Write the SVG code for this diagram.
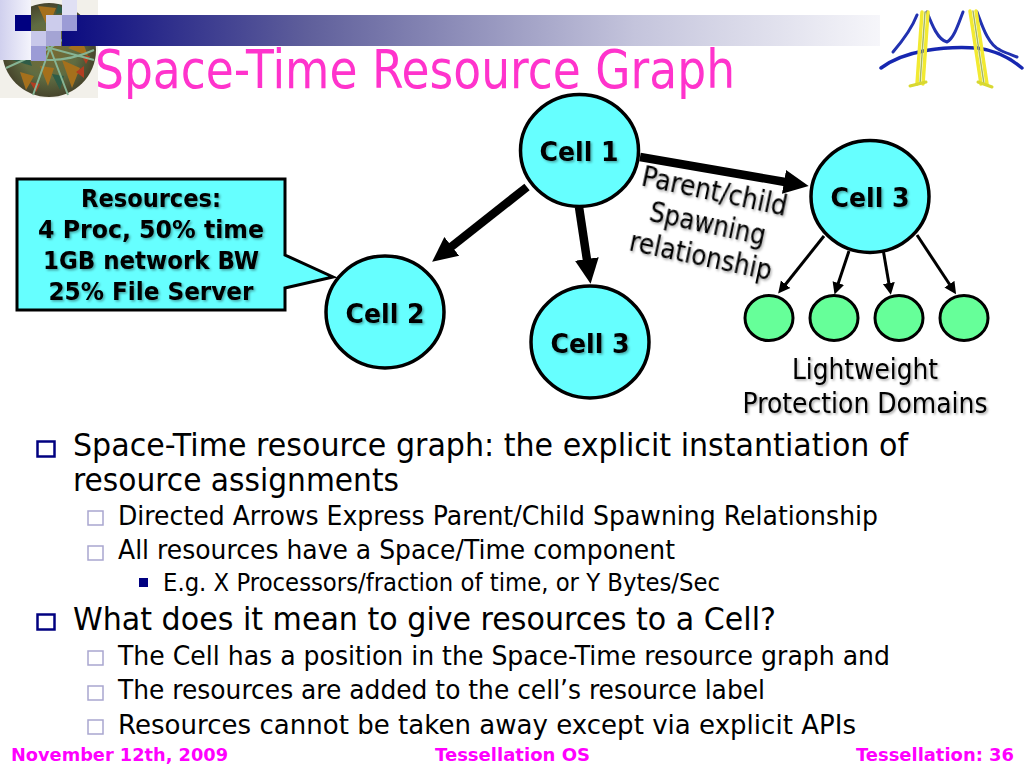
<svg xmlns="http://www.w3.org/2000/svg" width="1024" height="768" viewBox="0 0 1024 768">
<style>
text{font-family:"DejaVu Sans","Noto Sans",sans-serif;fill:#000}
.cell{fill:#66ffff;stroke:#000;stroke-width:3.5}
.lw{fill:#66ff99;stroke:#000;stroke-width:3}
.lbl{font-weight:bold;font-size:27px;text-anchor:middle;filter:url(#sh)}
.note{font-size:28px;text-anchor:middle;filter:url(#sh)}
.res{font-weight:bold;font-size:25px;text-anchor:middle;filter:url(#sh)}
.foot{font-weight:bold;font-size:18.500px;fill:#ff00ff}
.l1{font-size:32px}.l2{font-size:27px}.l3{font-size:24px}
.b1{fill:none;stroke:#000080;stroke-width:2.5}
.b2{fill:none;stroke:#a9a6cf;stroke-width:1.5}
.thick{fill:none;stroke:#000;stroke-width:8.500}
.thin{fill:none;stroke:#000;stroke-width:3}
</style>
<defs>
<linearGradient id="bar" x1="0" x2="1" y1="0" y2="0"><stop offset="0" stop-color="#0a0a80"/><stop offset="0.3" stop-color="#5f5f9b"/><stop offset="0.7" stop-color="#c4c4dc"/><stop offset="1" stop-color="#f6f6fa"/></linearGradient>
<linearGradient id="fade" x1="0" x2="1" y1="0" y2="0"><stop offset="0" stop-color="#d0d0ee"/><stop offset="1" stop-color="#f4f4fc"/></linearGradient>
<radialGradient id="ball"><stop offset="0" stop-color="#7c6a30"/><stop offset="0.6" stop-color="#5f6c42"/><stop offset="1" stop-color="#47452c"/></radialGradient>
<filter id="sh" x="-10%" y="-20%" width="120%" height="150%"><feDropShadow dx="1.5" dy="1.5" stdDeviation="0.8" flood-color="#000" flood-opacity="0.35"/></filter>
<filter id="soft" x="-5%" y="-5%" width="110%" height="110%"><feGaussianBlur stdDeviation="0.7"/></filter>
<marker id="hb" markerUnits="userSpaceOnUse" markerWidth="28" markerHeight="28" refX="1" refY="14" orient="auto"><path d="M0 2L25 14L0 26Z" fill="#000"/></marker>
<marker id="hs" markerUnits="userSpaceOnUse" markerWidth="14" markerHeight="14" refX="1" refY="7" orient="auto"><path d="M0 1L12 7L0 13Z" fill="#000"/></marker>
</defs>

<g id="header">
<rect x="0" y="0" width="98" height="98" fill="#f2f0ea"/>
<circle cx="49" cy="50" r="47" fill="url(#ball)"/>
<g filter="url(#soft)">
<path d="M62 60l18 8l-8 20zM20 72l14 4l-8 14zM38 6l18 2l-8 20zM68 48l14-8l6 16zM40 66l14 2l-6 18z" fill="#a5701f"/>
<path d="M12 60l16-6l4 12zM52 74l12 2l-4 14zM58 4l8 8l-10 2z" fill="#2f5c46"/>
<path d="M30 82l10 2l-4 8zM76 72l8-6l0 12zM82 56l8 0l-4 8z" fill="#b23d20"/>
<path d="M6 68L50 48L94 60M50 48L33 95M50 48L68 95M22 30L50 48L80 28M4 50Q50 70 94 50" fill="none" stroke="#86b494" stroke-width="2"/>
</g>
<rect x="62" y="15" width="818" height="31" fill="url(#bar)"/>
<rect x="0" y="0" width="31" height="60" fill="url(#fade)"/>
<rect x="62" y="0" width="15" height="15" fill="#e0e0f4"/>
<rect x="15" y="15" width="16" height="16" fill="#000080"/>
<rect x="46" y="15" width="16" height="16" fill="#ccccec"/>
<rect x="62" y="15" width="15" height="16" fill="#9c9cd6"/>
<rect x="31" y="31" width="15" height="15" fill="#c8c8ea"/>
<rect x="46" y="31" width="15" height="15" fill="#a4a4d4"/>
<rect x="31" y="46" width="15" height="15" fill="#9c9cd6"/>
</g>
<g id="logo" fill="none" stroke-linecap="round" filter="url(#soft)">
<path d="M893 52C905 38 912 28 917 15M927 12C932 25 938 40 947 42C954 38 958 25 963 12M977 12C982 25 988 45 1000 50C1006 53 1012 55 1017 57" stroke="#2030b0" stroke-width="3"/>
<path d="M881 68C905 50 945 46 977 48C995 50 1010 58 1022 68" stroke="#1828b0" stroke-width="3.500"/>
<path d="M922 12L917 84M928 12L923 84M970 11L981 84M976 11L987 84" stroke="#f2ea30" stroke-width="3.500"/>
<path d="M925 12L920 84M973 11L984 84" stroke="#a6b860" stroke-width="1.500"/>
<path d="M910 86L926 82M978 82L992 87" stroke="#d8d830" stroke-width="3"/>
</g>
<text id="title" x="95" y="88" font-size="53" style="fill:#ff33cc" textLength="640" lengthAdjust="spacingAndGlyphs">Space-Time Resource Graph</text>

<g id="connectors">
<path class="thick" d="M640 157L785 182" marker-end="url(#hb)"/>
<path class="thick" d="M527 187L451 247" marker-end="url(#hb)"/>
<path class="thick" d="M579 207L587 260" marker-end="url(#hb)"/>
<path class="thin" d="M824 236L785 285" marker-end="url(#hs)"/>
<path class="thin" d="M849 251L838 284" marker-end="url(#hs)"/>
<path class="thin" d="M883 249L889 284" marker-end="url(#hs)"/>
<path class="thin" d="M917 235L950 285" marker-end="url(#hs)"/>
</g>

<g id="resources">
<path d="M17 179H285V255L333 277L285 288V310H17Z" fill="#66ffff" stroke="#000" stroke-width="3"/>
<text class="res" x="151" y="207" textLength="140" lengthAdjust="spacingAndGlyphs">Resources:</text>
<text class="res" x="151" y="238" textLength="226" lengthAdjust="spacingAndGlyphs">4 Proc, 50% time</text>
<text class="res" x="151" y="269" textLength="216" lengthAdjust="spacingAndGlyphs">1GB network BW</text>
<text class="res" x="151" y="300" textLength="205" lengthAdjust="spacingAndGlyphs">25% File Server</text>
</g>
<g id="cell1"><ellipse class="cell" cx="579.500" cy="150.500" rx="59" ry="56"/><text class="lbl" x="579" y="161" textLength="79" lengthAdjust="spacingAndGlyphs">Cell 1</text></g>
<g id="cell2"><ellipse class="cell" cx="385" cy="312" rx="59" ry="56"/><text class="lbl" x="385" y="323" textLength="79" lengthAdjust="spacingAndGlyphs">Cell 2</text></g>
<g id="cell3a"><ellipse class="cell" cx="590" cy="342" rx="59" ry="56"/><text class="lbl" x="590" y="353" textLength="79" lengthAdjust="spacingAndGlyphs">Cell 3</text></g>
<g id="cell3b"><ellipse class="cell" cx="870" cy="196.500" rx="59" ry="56"/><text class="lbl" x="870" y="207" textLength="79" lengthAdjust="spacingAndGlyphs">Cell 3</text></g>
<g id="pd1"><ellipse class="lw" cx="769" cy="318" rx="24" ry="22.500"/></g>
<g id="pd2"><ellipse class="lw" cx="834" cy="318" rx="24" ry="22.500"/></g>
<g id="pd3"><ellipse class="lw" cx="899" cy="318" rx="24" ry="22.500"/></g>
<g id="pd4"><ellipse class="lw" cx="964" cy="318" rx="24" ry="22.500"/></g>

<g id="spawn-label" transform="rotate(12 707 227)">
<text class="note" x="707" y="200" textLength="148" lengthAdjust="spacingAndGlyphs">Parent/child</text>
<text class="note" x="707" y="233" textLength="118" lengthAdjust="spacingAndGlyphs">Spawning</text>
<text class="note" x="707" y="266" textLength="145" lengthAdjust="spacingAndGlyphs">relationship</text>
</g>
<g id="lpd-label">
<text class="note" x="865" y="379" textLength="146" lengthAdjust="spacingAndGlyphs">Lightweight</text>
<text class="note" x="865" y="413" textLength="245" lengthAdjust="spacingAndGlyphs">Protection Domains</text>
</g>

<g id="bullets">
<rect class="b1" x="37.500" y="441.500" width="17" height="15"/>
<text class="l1" x="73" y="456" textLength="835" lengthAdjust="spacingAndGlyphs">Space-Time resource graph: the explicit instantiation of</text>
<text class="l1" x="73" y="491" textLength="326" lengthAdjust="spacingAndGlyphs">resource assignments</text>
<rect class="b2" x="88" y="511" width="15" height="14"/>
<text class="l2" x="118" y="525" textLength="760" lengthAdjust="spacingAndGlyphs">Directed Arrows Express Parent/Child Spawning Relationship</text>
<rect class="b2" x="88" y="546" width="15" height="14"/>
<text class="l2" x="118" y="559" textLength="557" lengthAdjust="spacingAndGlyphs">All resources have a Space/Time component</text>
<rect x="139" y="578" width="9" height="9" fill="#000080"/>
<text class="l3" x="163" y="591" textLength="557" lengthAdjust="spacingAndGlyphs">E.g. X Processors/fraction of time, or Y Bytes/Sec</text>
<rect class="b1" x="37.500" y="614.500" width="17" height="15"/>
<text class="l1" x="73" y="630" textLength="703" lengthAdjust="spacingAndGlyphs">What does it mean to give resources to a Cell?</text>
<rect class="b2" x="88" y="651" width="15" height="14"/>
<text class="l2" x="118" y="665" textLength="772" lengthAdjust="spacingAndGlyphs">The Cell has a position in the Space-Time resource graph and</text>
<rect class="b2" x="88" y="686" width="15" height="14"/>
<text class="l2" x="118" y="699" textLength="647" lengthAdjust="spacingAndGlyphs">The resources are added to the cell’s resource label</text>
<rect class="b2" x="88" y="720" width="15" height="14"/>
<text class="l2" x="118" y="734" textLength="738" lengthAdjust="spacingAndGlyphs">Resources cannot be taken away except via explicit APIs</text>
</g>
<g id="footer">
<text class="foot" x="11" y="761" textLength="217" lengthAdjust="spacingAndGlyphs">November 12th, 2009</text>
<text class="foot" x="435" y="761" textLength="155" lengthAdjust="spacingAndGlyphs">Tessellation OS</text>
<text class="foot" x="856" y="761" textLength="158" lengthAdjust="spacingAndGlyphs">Tessellation: 36</text>
</g>
</svg>
